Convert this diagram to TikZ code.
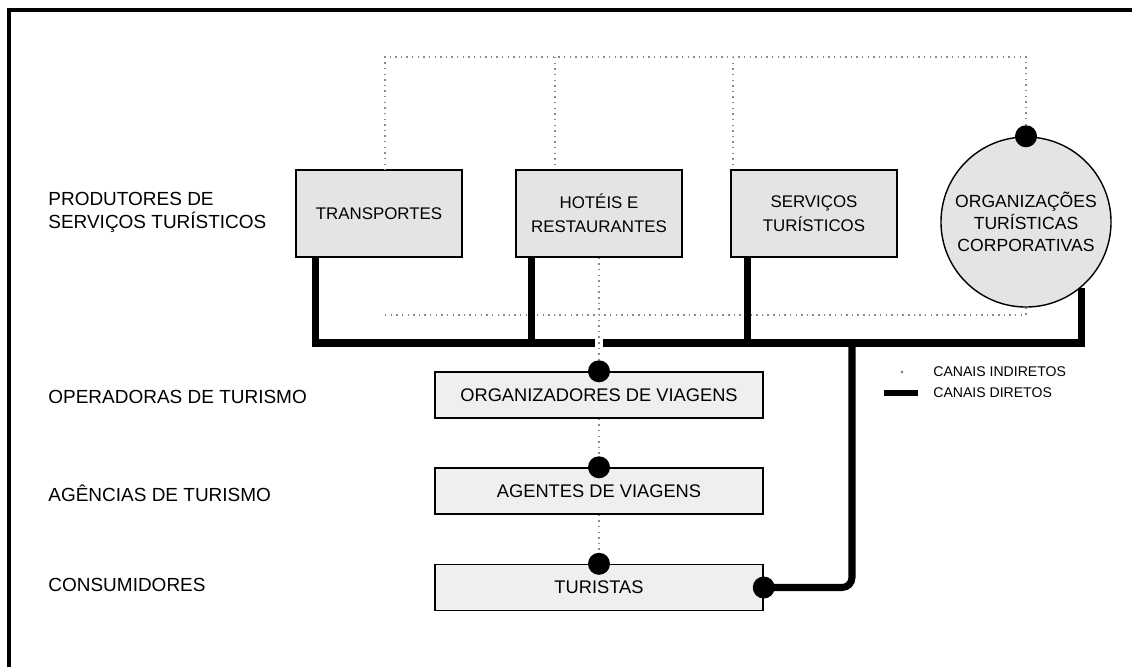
\documentclass[tikz,border=0pt]{standalone}
\usepackage{fontspec}
\setmainfont{Liberation Sans}
\definecolor{boxfill}{HTML}{E4E4E4}
\definecolor{chanfill}{HTML}{EFEFEF}
\definecolor{dotgray}{HTML}{8A8A8A}

\begin{document}
\begin{tikzpicture}[x=0.025cm, y=-0.025cm, line width=1pt,
  font=\fontsize{13.5}{16.5}\selectfont,
  prodbox/.style={draw, fill=boxfill, minimum width=4.15cm, minimum height=2.175cm,
    align=center, inner sep=2pt, font=\fontsize{12}{17}\selectfont},
  orgcirc/.style={draw, circle, fill=boxfill, minimum size=4.25cm, inner sep=0pt,
    align=center, font=\fontsize{12.5}{15.5}\selectfont},
  chanbox/.style={draw, fill=chanfill, minimum width=8.2cm, minimum height=1.15cm,
    inner sep=2pt, font=\fontsize{13}{14}\selectfont},
  level/.style={anchor=west, align=left},
  legend/.style={anchor=west, font=\fontsize{10}{12}\selectfont},
  dot/.style={circle, fill=black, inner sep=0pt, minimum size=0.55cm},
  direct/.style={line width=5pt},
  indirect/.style={dotgray, line width=1.2pt, dash pattern=on 1pt off 3pt}]
  \useasboundingbox (0,0) rectangle (1132,667);
  \draw[line width=2.2pt] (1132,10) -- (9,10) -- (9,667);

  \node[level] (lprod) at (43,212) {PRODUTORES DE\\SERVIÇOS TURÍSTICOS};
  \node[level] (loper) at (43,397) {OPERADORAS DE TURISMO};
  \node[level] (lagen) at (43,493) {AGÊNCIAS DE TURISMO};
  \node[level] (lcons) at (43,585) {CONSUMIDORES};

  \node[prodbox] (transp) at (379,213.5) {TRANSPORTES};
  \node[prodbox] (hoteis) at (599,213.5) {HOTÉIS E\\RESTAURANTES};
  \node[prodbox] (servicos) at (814,213.5) {SERVIÇOS\\TURÍSTICOS};
  \node[orgcirc] (org) at (1026,222) {ORGANIZAÇÕES\\TURÍSTICAS\\CORPORATIVAS};

  \node[chanbox] (orgv) at (599,395) {ORGANIZADORES DE VIAGENS};
  \node[chanbox] (agentes) at (599,491) {AGENTES DE VIAGENS};
  \node[chanbox] (turistas) at (599,587.5) {TURISTAS};

  \coordinate (tl) at (385,57);
  \coordinate (th) at (555,57);
  \coordinate (ts) at (733,57);
  \coordinate (ll) at (385,315);
  \draw[indirect] (org.north) -- (org.north |- tl) -- (tl) -- (tl |- transp.north);
  \draw[indirect] (th) -- (th |- hoteis.north);
  \draw[indirect] (ts) -- (ts |- servicos.north);
  \draw[indirect] (ll) -- (ll -| org.south) -- (org.south);
  \draw[indirect] (hoteis.south) -- (orgv.north);
  \draw[indirect] (orgv.south) -- (agentes.north);
  \draw[indirect] (agentes.south) -- (turistas.north);

  \coordinate (gapl) at (595,343);
  \coordinate (gapr) at (603,343);
  \coordinate (legt) at ([xshift=0.5cm]transp.south west);
  \coordinate (legh) at ([xshift=0.4cm]hoteis.south west);
  \coordinate (legs) at ([xshift=0.425cm]servicos.south west);
  \coordinate (drop) at (852,343);
  \draw[direct] (legt) |- (gapl);
  \draw[direct] (legh) -- (legh |- gapl);
  \draw[direct] (gapr) -| (org.-50);
  \draw[direct] (legs) -- (legs |- gapr);
  \draw[direct, rounded corners=0.25cm] (drop) |- (turistas.east);

  \node[dot] (dtop) at (org.north) {};
  \node[dot] (dorgv) at (orgv.north) {};
  \node[dot] (dagen) at (agentes.north) {};
  \node[dot] (dtur) at (turistas.north) {};
  \node[dot] (dcons) at (turistas.east) {};

  \node[legend] (ind) at (928,372) {CANAIS INDIRETOS};
  \node[legend] (dir) at (928,393) {CANAIS DIRETOS};
  \fill[dotgray] ([xshift=-0.65cm]ind.west) circle (1.2pt);
  \draw[direct, line width=4.5pt] ([xshift=-1.1cm]dir.west) -- ([xshift=-0.25cm]dir.west);
\end{tikzpicture}
\end{document}
